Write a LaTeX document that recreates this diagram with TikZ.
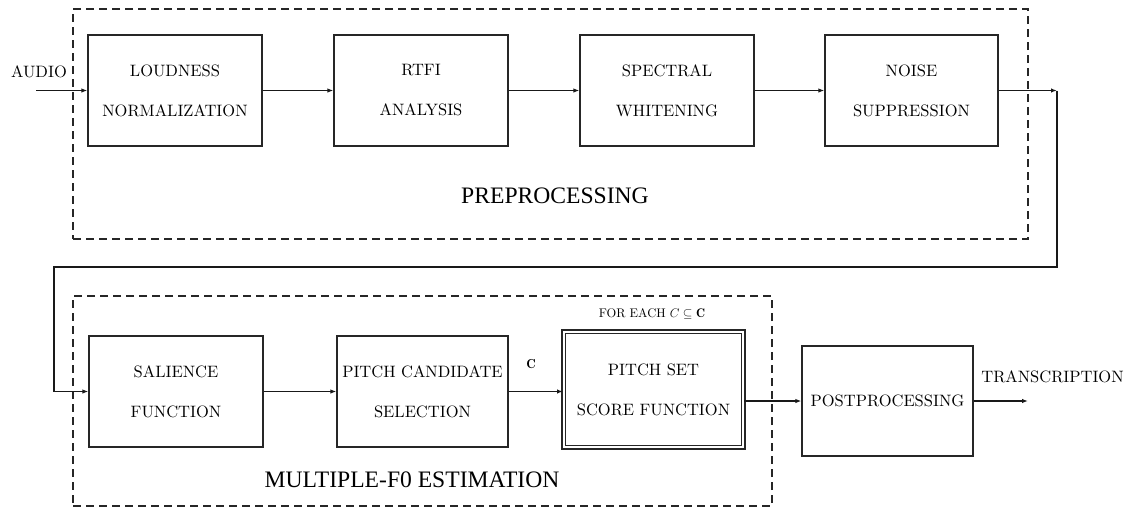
\RequirePackage{fix-cm}
\documentclass[tikz,border=0pt]{standalone}
\usepackage{fontspec}
\newfontfamily\titlefont{Liberation Serif}
\newfontfamily\boxfont{lmroman10-regular.otf}
\usetikzlibrary{arrows.meta}

\begin{document}
\begin{tikzpicture}[x=1pt,y=-1pt,
  stagebox/.style={draw=black!85, line width=1.3pt, minimum width=174pt,
    minimum height=111pt, align=center, inner sep=0pt,
    font=\boxfont\fontsize{16.5}{40}\selectfont},
  groupbox/.style={draw=black!85, line width=1.3pt, dash pattern=on 8pt off 5pt,
    inner sep=0pt},
  flow/.style={draw=black!90, line width=1.3pt, -{Latex[length=6pt,width=4.5pt]}},
  plain/.style={font=\boxfont\fontsize{16.5}{20}\selectfont, inner sep=0pt},
  grouptitle/.style={font=\titlefont\fontsize{23.6}{28}\selectfont, inner sep=0pt}
]
\useasboundingbox (0,0) rectangle (1135,509);

% dashed group frames
\node[groupbox, minimum width=955pt, minimum height=230pt] (pregroup) at (550.5,124) {};
\node[groupbox, minimum width=699pt, minimum height=210pt] (f0group) at (422.5,401) {};

% preprocessing chain
\node[stagebox] (loud)  at (175,90.5)   {LOUDNESS\\NORMALIZATION};
\node[stagebox] (rtfi)  at (421,90.5)   {RTFI\\ANALYSIS};
\node[stagebox] (spec)  at (667,90.5)   {SPECTRAL\\WHITENING};
\node[stagebox, minimum width=173pt] (noise) at (911.5,90.5) {NOISE\\SUPPRESSION};

% multiple-F0 estimation chain
\node[stagebox] (sal)  at (176,391.5) {SALIENCE\\FUNCTION};
\node[stagebox, minimum width=171pt] (cand) at (422.5,391.5) {PITCH CANDIDATE\\SELECTION};
\node[stagebox, double, line width=1.5pt, double distance=2pt,
      minimum width=179.5pt, minimum height=115.5pt] (pset) at (653.5,389.5)
      {PITCH SET\\SCORE FUNCTION};
\node[stagebox, minimum width=171pt, minimum height=110pt] (post) at (887.5,401)
      {POSTPROCESSING};

% labels
\node[plain] (audio) at (39,72) {AUDIO};
\node[plain] (trans) at (1052.5,377) {TRANSCRIPTION};
\node[grouptitle] (pretitle) at (555,196) {PREPROCESSING};
\node[grouptitle] (f0title) at (412,480) {MULTIPLE-F0 ESTIMATION};
\node[font=\fontsize{13}{16}\selectfont, inner sep=0pt] (cset) at (531,364) {$\mathbf{C}$};
\node[font=\boxfont\fontsize{12.5}{15}\selectfont, inner sep=0pt] (foreach) at (652,314)
      {FOR EACH $C\subseteq\mathbf{C}$};

% connectors
\coordinate (ain)  at (36,90.5);
\coordinate (turn) at (1057,90.5);
\coordinate (back) at (54,267);
\coordinate (tout) at (1028,401);

\draw[flow] (ain) -- (loud);
\draw[flow] (loud) -- (rtfi);
\draw[flow] (rtfi) -- (spec);
\draw[flow] (spec) -- (noise);
\draw[flow] (noise) -- (turn);
\draw[flow] (turn) |- (back) |- (sal.west);
\draw[flow] (sal) -- (cand);
\draw[flow] (cand.east) -- (cand.east -| pset.west);
\draw[flow] (pset.east |- post.west) -- (post.west);
\draw[flow] (post) -- (tout);
\end{tikzpicture}
\end{document}
